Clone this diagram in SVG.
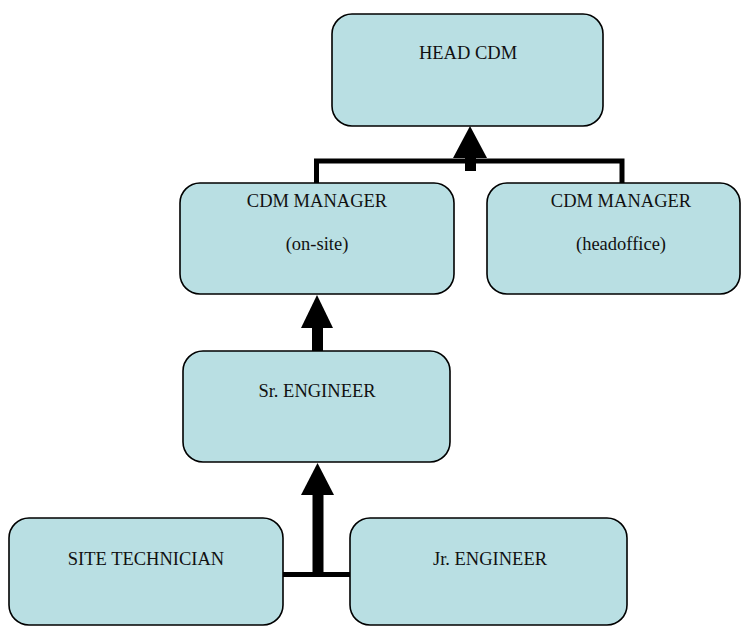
<svg xmlns="http://www.w3.org/2000/svg" width="743" height="626" viewBox="0 0 743 626">
<style>
.box{fill:#B9DFE3;stroke:#000;stroke-width:1.6}
.t{font-family:"Liberation Serif","Times New Roman",serif;font-size:18.5px;fill:#111;text-anchor:middle}
.ln{fill:none;stroke:#000;stroke-width:5}
.stem{stroke:#000;stroke-width:11}
.head{fill:#000}
</style>
<rect width="743" height="626" fill="#fff"/>
<g id="connectors">
<polyline class="ln" points="316.5,183 316.5,161 622,161 622,183"/>
<line class="stem" x1="470.5" y1="171" x2="470.5" y2="155"/>
<polygon class="head" points="453,158 487,158 470,126"/>
<line class="stem" x1="317.5" y1="351" x2="317.5" y2="325"/>
<polygon class="head" points="301,328 333,328 317,295"/>
<line class="ln" x1="283" y1="574.5" x2="350" y2="574.5"/>
<line class="stem" x1="318" y1="577" x2="318" y2="492"/>
<polygon class="head" points="301,495 334,495 317.5,463"/>
</g>
<g id="head-cdm">
<rect class="box" x="332" y="14" width="271" height="112" rx="20"/>
<text class="t" x="468" y="59">HEAD CDM</text>
</g>
<g id="cdm-manager-onsite">
<rect class="box" x="180" y="183" width="274" height="111" rx="20"/>
<text class="t" x="317" y="207">CDM MANAGER</text>
<text class="t" x="317" y="250">(on-site)</text>
</g>
<g id="cdm-manager-headoffice">
<rect class="box" x="487" y="183" width="253" height="111" rx="20"/>
<text class="t" x="621" y="207">CDM MANAGER</text>
<text class="t" x="621" y="250">(headoffice)</text>
</g>
<g id="sr-engineer">
<rect class="box" x="183" y="351" width="267" height="111" rx="20"/>
<text class="t" x="317" y="397">Sr. ENGINEER</text>
</g>
<g id="site-technician">
<rect class="box" x="9" y="518" width="274" height="107" rx="20"/>
<text class="t" x="146" y="565">SITE TECHNICIAN</text>
</g>
<g id="jr-engineer">
<rect class="box" x="350" y="518" width="277" height="107" rx="20"/>
<text class="t" x="490" y="565">Jr. ENGINEER</text>
</g>
</svg>
